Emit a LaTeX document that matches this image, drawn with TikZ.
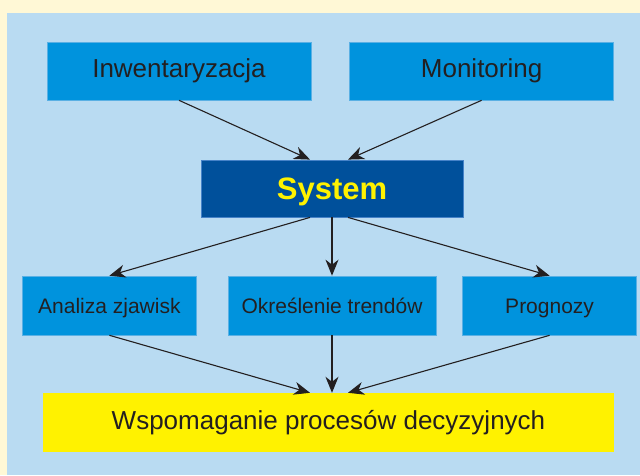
\documentclass[tikz,border=0pt]{standalone}
\usepackage{fontspec}
\setmainfont{Liberation Sans}
\usetikzlibrary{arrows.meta, positioning}
\definecolor{creambg}{RGB}{255,248,214}
\definecolor{panelblue}{RGB}{185,219,242}
\definecolor{boxblue}{RGB}{0,147,221}
\definecolor{boxedge}{RGB}{90,176,228}
\definecolor{sysblue}{RGB}{0,80,155}
\definecolor{sysedge}{RGB}{70,130,200}
\definecolor{signyellow}{RGB}{255,242,0}
\definecolor{textgray}{RGB}{35,31,32}
\tikzset{
    topbox/.style={rectangle, minimum width=264pt, minimum height=58pt, inner sep=0pt, text centered, draw=boxedge, line width=0.6pt, fill=boxblue, text=textgray, font=\fontsize{26}{30}\selectfont},
    midbox/.style={rectangle, minimum width=174pt, minimum height=59pt, inner sep=0pt, text centered, text height=15pt, text depth=0pt, draw=boxedge, line width=0.6pt, fill=boxblue, text=textgray, font=\fontsize{21}{25}\selectfont},
    sysbox/.style={rectangle, minimum width=262pt, minimum height=57pt, inner sep=0pt, text centered, text height=22pt, text depth=0pt, draw=sysedge, line width=0.8pt, fill=sysblue, text=signyellow, font=\fontsize{31}{36}\selectfont\bfseries},
    goalbox/.style={rectangle, minimum width=571pt, minimum height=59pt, inner sep=0pt, text centered, fill=signyellow, text=textgray, font=\fontsize{26}{30}\selectfont},
    arrow/.style={line width=1.1pt, draw=textgray, -{Stealth[length=16pt, width=13pt, inset=5pt]}}
}

\begin{document}
\begin{tikzpicture}[x=1pt, y=1pt]

% Background
\fill[creambg] (0,0) rectangle (640,475);
\fill[panelblue] (7,0) rectangle (640,462);
\useasboundingbox (0,0) rectangle (640,475);

% Nodes
\node (sys) [sysbox] at (332,286.5) {System};
\node (inw) [topbox] at (179,404) {Inwentaryzacja};
\node (mon) [topbox, right=38pt of inw] {Monitoring};

\node (trend) [midbox, minimum width=208pt] at (332,169.5) {Określenie trendów};
\node (ana) [midbox, left=31pt of trend] {Analiza zjawisk};
\node (prog) [midbox, right=26pt of trend] {Prognozy};

\node (goal) [goalbox] at (328.5,52.5) {Wspomaganie procesów decyzyjnych};

% Connectors
\draw [arrow] (inw.south) -- ([xshift=-22pt]sys.north);
\draw [arrow] (mon.south) -- ([xshift=16pt]sys.north);
\draw [arrow] ([xshift=-22pt]sys.south) -- (ana.north);
\draw [arrow] (sys.south) -- (trend.north);
\draw [arrow] ([xshift=16pt]sys.south) -- (prog.north);
\draw [arrow] (ana.south) -- ([xshift=-18.5pt]goal.north);
\draw [arrow] (trend.south) -- ([xshift=3.5pt]goal.north);
\draw [arrow] (prog.south) -- ([xshift=19.5pt]goal.north);

\end{tikzpicture}
\end{document}
